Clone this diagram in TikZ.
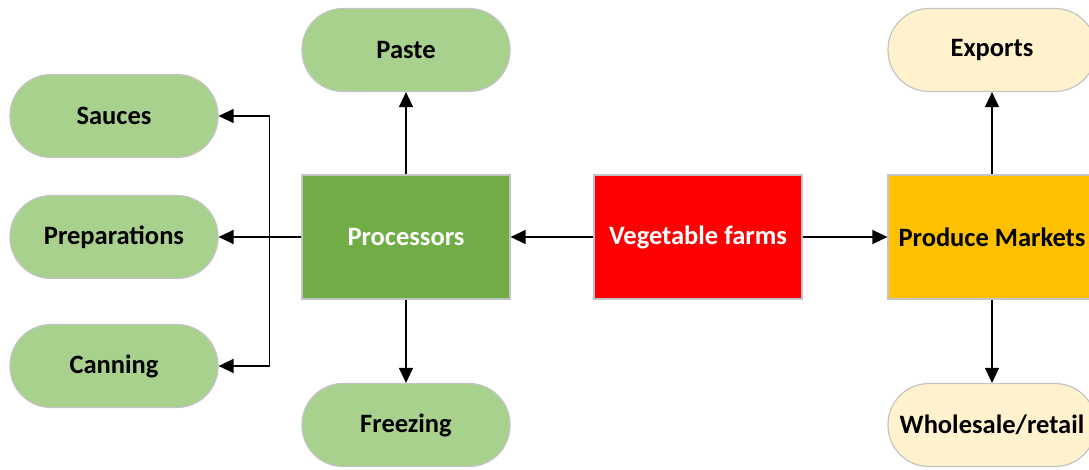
\documentclass[tikz,border=0pt]{standalone}
\usepackage{fontspec}
\setmainfont{Carlito}
\usepackage{tikz}
\usetikzlibrary{arrows.meta,calc}
\definecolor{edge}{HTML}{C4C4C4}
\definecolor{leaf}{HTML}{A9D18E}
\definecolor{cream}{HTML}{FFF2CC}
\definecolor{proc}{HTML}{70AD47}
\definecolor{farm}{HTML}{FF0000}
\definecolor{market}{HTML}{FFC000}
\tikzset{
  flow/.style={-{Triangle[length=15pt,width=14pt]}, line width=1.3pt, draw=black},
  pill/.style={draw=edge, line width=1.2pt, rounded corners=41pt,
    minimum width=208pt, minimum height=83pt, font=\fontsize{26.5}{30}\selectfont\bfseries},
  greenpill/.style={pill, fill=leaf},
  creampill/.style={pill, fill=cream},
  hub/.style={draw=edge, line width=1.2pt, minimum width=208pt, minimum height=124pt,
    font=\fontsize{26.5}{30}\selectfont\bfseries}
}
\begin{document}
\begin{tikzpicture}[x=1pt,y=-1pt]
  \useasboundingbox (0,0) rectangle (1089,470);
  \clip (0,0) rectangle (1089,470);

  % centre column
  \node[hub, fill=proc, text=white] (proc) at (406,237) {Processors};
  \node[hub, fill=farm, text=white] (farm) at (698,237) {Vegetable farms};
  \node[hub, fill=market] (market) at (992,237) {Produce Markets};

  % processed products
  \node[greenpill] (paste) at (406,50) {Paste};
  \node[greenpill] (freeze) at (406,425) {Freezing};
  \node[greenpill] (sauce) at (114,116) {Sauces};
  \node[greenpill] (prep) at (114,237) {Preparations};
  \node[greenpill] (can) at (114,366) {Canning};

  % market outlets
  \node[creampill] (export) at (992,50) {Exports};
  \node[creampill] (retail) at (992,425) {Wholesale/retail};

  \coordinate (split) at ($(proc.west)+(-32,0)$);

  \draw[flow] (farm) -- (proc);
  \draw[flow] (farm) -- (market);
  \draw[flow] (proc) -- (paste);
  \draw[flow] (proc) -- (freeze);
  \draw[flow] (market) -- (export);
  \draw[flow] (market) -- (retail);
  \draw[flow] (proc.west) -- (prep);
  \draw[flow] (split) |- (sauce);
  \draw[flow] (split) |- (can);
\end{tikzpicture}
\end{document}
